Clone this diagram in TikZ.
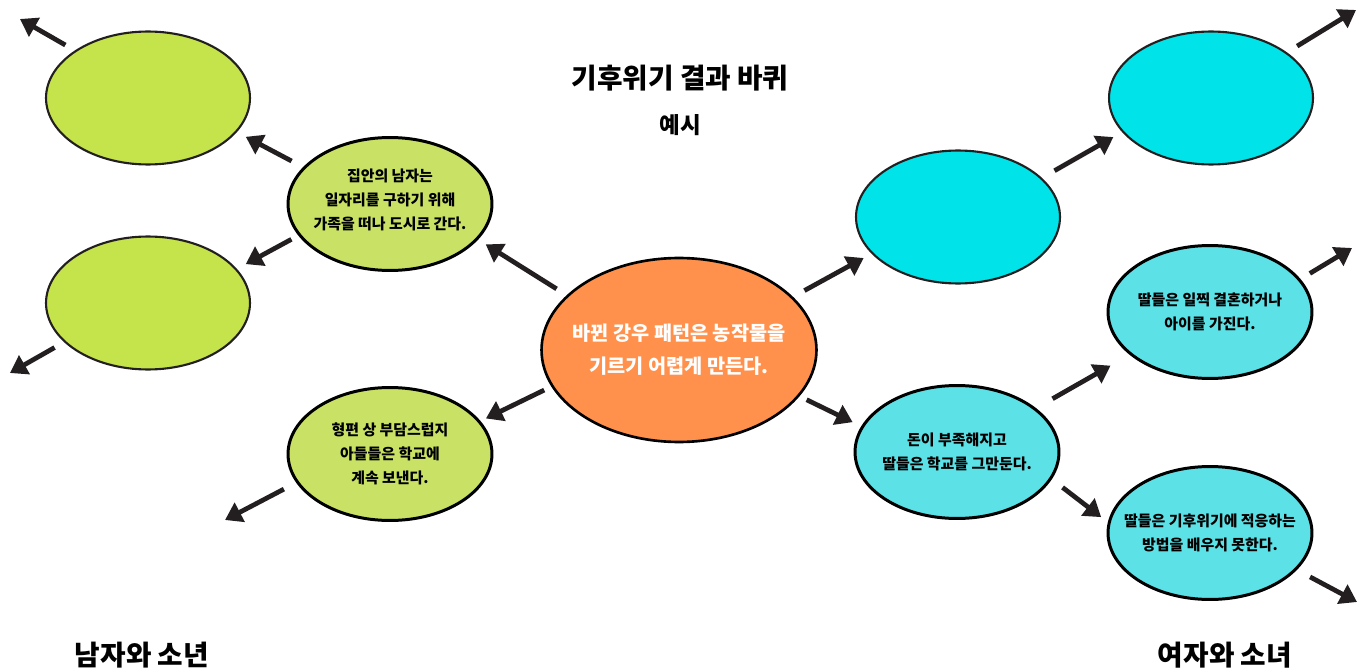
\documentclass[tikz,border=0pt]{standalone}
\usepackage{fontspec}
\setmainfont{Noto Sans CJK KR}
\usetikzlibrary{shapes.geometric,arrows.meta}

\definecolor{leafgreen}{RGB}{197,227,75}
\definecolor{palegreen}{RGB}{201,226,101}
\definecolor{sunorange}{RGB}{255,145,77}
\definecolor{brightcyan}{RGB}{0,227,232}
\definecolor{softcyan}{RGB}{92,225,230}
\definecolor{inkgray}{RGB}{35,31,32}

\begin{document}
\begin{tikzpicture}[x=0.02cm,y=-0.02cm,
	bubble/.style={ellipse, draw=inkgray, line width=1.2pt, minimum width=4.08cm, minimum height=2.66cm, inner sep=0pt},
	textbubble/.style={bubble, draw=black, line width=1.7pt},
	bubbletext/.style={align=center, inner sep=0pt, font=\bfseries\fontsize{8.5}{13.6}\selectfont},
	heading/.style={inner sep=0pt, font=\bfseries\fontsize{15.8}{18}\selectfont},
	arr/.style={draw=inkgray, line width=2.7pt, -{Triangle[length=9.5pt,width=12pt]}}]
	\useasboundingbox (0,0) rectangle (1365,672);

	% Titles
	\node[heading] (title) at (680,78) {기후위기 결과 바퀴};
	\node[inner sep=0pt, font=\bfseries\fontsize{12.8}{15}\selectfont] (sub) at (680,125) {예시};
	\node[heading] (boys) at (142,655) {남자와 소년};
	\node[heading] (girls) at (1225,655) {여자와 소녀};

	% Centre
	\node[bubble, draw=black, line width=1.5pt, fill=sunorange, minimum width=5.5cm, minimum height=3.68cm] (ctr) at (679,350) {};
	\node[align=center, inner sep=0pt, text=white, font=\bfseries\fontsize{11.2}{18.7}\selectfont] (ctr-txt) at (ctr) {바뀐 강우 패턴은 농작물을\\기르기 어렵게 만든다.};

	% Left side
	\node[bubble, fill=leafgreen] (b1) at (148,98) {};
	\node[bubble, fill=leafgreen] (b2) at (148,303) {};
	\node[textbubble, fill=palegreen] (g1) at (390,204) {};
	\node[bubbletext] (g1-txt) at (390,200) {집안의 남자는\\일자리를 구하기 위해\\가족을 떠나 도시로 간다.};
	\node[textbubble, fill=palegreen] (g2) at (390,454) {};
	\node[bubbletext] (g2-txt) at (g2) {형편 상 부담스럽지\\아들들은 학교에\\계속 보낸다.};

	% Right side
	\node[bubble, fill=brightcyan] (b3) at (1211,98) {};
	\node[bubble, fill=brightcyan] (b4) at (958,217) {};
	\node[textbubble, fill=softcyan] (t1) at (957,452) {};
	\node[bubbletext] (t1-txt) at (t1) {돈이 부족해지고\\딸들은 학교를 그만둔다.};
	\node[textbubble, fill=softcyan] (t2) at (1210,312) {};
	\node[bubbletext] (t2-txt) at (t2) {딸들은 일찍 결혼하거나\\아이를 가진다.};
	\node[textbubble, fill=softcyan] (t3) at (1210,533) {};
	\node[bubbletext] (t3-txt) at (t3) {딸들은 기후위기에 적응하는\\방법을 배우지 못한다.};

	% Free arrow ends
	\coordinate (b1-out) at (20,19);
	\coordinate (b2-out) at (10,373);
	\coordinate (g2-out) at (225,520);
	\coordinate (b3-out) at (1356,10);
	\coordinate (t2-out) at (1352,248);
	\coordinate (t3-out) at (1357,602);

	% Arrows
	\draw[arr, shorten <=6.8pt, shorten >=5.1pt] (ctr.154) -- (g1.-22);
	\draw[arr, shorten <=4.5pt, shorten >=3.4pt] (ctr.-164) -- (g2.20);
	\draw[arr, shorten <=7.4pt, shorten >=5.7pt] (g1.157) -- (b1.-21);
	\draw[arr, shorten <=4.5pt, shorten >=5.7pt] (g1.-161) -- (b2.21);
	\draw[arr, shorten <=6.2pt] (b1.147) -- (b1-out);
	\draw[arr, shorten <=6.2pt] (b2.-155) -- (b2-out);
	\draw[arr, shorten <=7.9pt] (g2.-163) -- (g2-out);

	\draw[arr, shorten <=7.4pt, shorten >=5.1pt] (ctr.25) -- (b4.-157);
	\draw[arr, shorten <=8.2pt, shorten >=5.7pt] (b4.25) -- (b3.-159);
	\draw[arr, shorten <=6.8pt] (b3.31) -- (b3-out);
	\draw[arr, shorten <=4.5pt, shorten >=5.4pt] (ctr.-21) -- (t1.165);
	\draw[arr, shorten <=10.8pt, shorten >=12.5pt] (t1.29) -- (t2.-152);
	\draw[arr, shorten <=6.2pt] (t2.20) -- (t2-out);
	\draw[arr, shorten <=7.7pt, shorten >=4.8pt] (t1.-16) -- (t3.174);
	\draw[arr, shorten <=8.5pt] (t3.-23) -- (t3-out);
\end{tikzpicture}
\end{document}
